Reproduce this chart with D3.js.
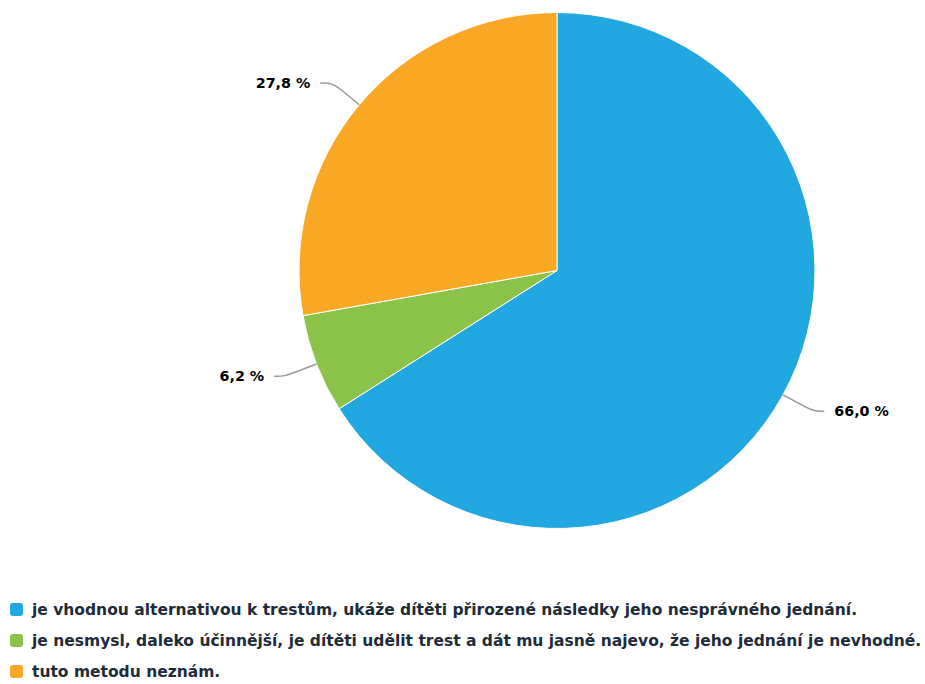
<!DOCTYPE html>
<html>
<head>
<meta charset="utf-8">
<script src="https://cdn.jsdelivr.net/npm/d3@7"></script>
<style>
  html, body { margin: 0; padding: 0; background: #fff; }
  svg { display: block; }
  text { font-family: "DejaVu Sans", "Open Sans", sans-serif; }
</style>
</head>
<body>
<svg id="chart" width="925" height="684"></svg>
<script>
// Answer categories and their shares (percent)
const categories = [
  "je vhodnou alternativou k trestům, ukáže dítěti přirozené následky jeho nesprávného jednání.",
  "je nesmysl, daleko účinnější, je dítěti udělit trest a dát mu jasně najevo, že jeho jednání je nevhodné.",
  "tuto metodu neznám."
];
const values = [66.0, 6.2, 27.8];
const valueLabels = ["66,0 %", "6,2 %", "27,8 %"];
const colors = ["#21a8e0", "#8bc34a", "#f9a826"];

const width = 925, height = 684;
const cx = 557, cy = 270.5, radius = 258;
const labelRadius = 302;   // circle the label anchors sit on (x)
const labelRadiusY = 292;  // vertical placement radius of the labels

const svg = d3.select("#chart");

const pie = d3.pie().sort(null).value(d => d.value);
const arcs = pie(values.map((v, i) => ({ value: v, i })));

const arc = d3.arc().innerRadius(0).outerRadius(radius);

const g = svg.append("g").attr("transform", `translate(${cx},${cy})`);

g.selectAll("path.slice")
  .data(arcs)
  .join("path")
  .attr("class", "slice")
  .attr("d", arc)
  .attr("fill", d => colors[d.data.i])
  .attr("stroke", "#ffffff")
  .attr("stroke-width", 1)
  .attr("stroke-linejoin", "round");

// polar helper: angle measured clockwise from 12 o'clock
const polar = (a, r) => [Math.sin(a) * r, -Math.cos(a) * r];

const labels = g.append("g").attr("class", "data-labels");

arcs.forEach(d => {
  const mid = (d.startAngle + d.endAngle) / 2;
  const right = Math.sin(mid) >= 0;
  const dir = right ? 1 : -1;
  const touch = polar(mid, radius);
  const brk = polar(mid, radius + 18);
  // label anchor: y from the angle, x back on the label circle
  const ly = -Math.cos(mid) * labelRadiusY;
  const lx = dir * Math.cos(Math.asin(Math.max(-1, Math.min(1, ly / labelRadius)))) * labelRadius;

  // soft connector: curve from label anchor into the break point, then straight to the slice
  const path = d3.path();
  path.moveTo(lx, ly);
  path.bezierCurveTo(lx - dir * 8, ly,
                     2 * brk[0] - touch[0], 2 * brk[1] - touch[1],
                     brk[0], brk[1]);
  path.lineTo(touch[0], touch[1]);

  labels.append("path")
    .attr("d", path.toString())
    .attr("fill", "none")
    .attr("stroke", "#999999")
    .attr("stroke-width", 1.5);

  labels.append("text")
    .attr("x", lx + dir * 10)
    .attr("y", ly)
    .attr("dy", "0.36em")
    .attr("text-anchor", right ? "start" : "end")
    .attr("font-size", 14.3)
    .attr("font-weight", 700)
    .attr("fill", "#000000")
    .text(valueLabels[d.data.i]);
});

// Legend
const legend = svg.append("g").attr("class", "legend").attr("transform", "translate(10,610)");
const rowGap = 31;

const items = legend.selectAll("g.item")
  .data(categories)
  .join("g")
  .attr("class", "item")
  .attr("transform", (d, i) => `translate(0,${i * rowGap})`);

items.append("rect")
  .attr("x", 0).attr("y", -7)
  .attr("width", 13).attr("height", 13)
  .attr("rx", 3).attr("ry", 3)
  .attr("fill", (d, i) => colors[i]);

items.append("text")
  .attr("x", 22)
  .attr("y", 0)
  .attr("dy", "0.35em")
  .attr("font-size", 15.5)
  .attr("font-weight", 700)
  .attr("fill", "#1d2b3a")
  .text(d => d);
</script>
</body>
</html>
